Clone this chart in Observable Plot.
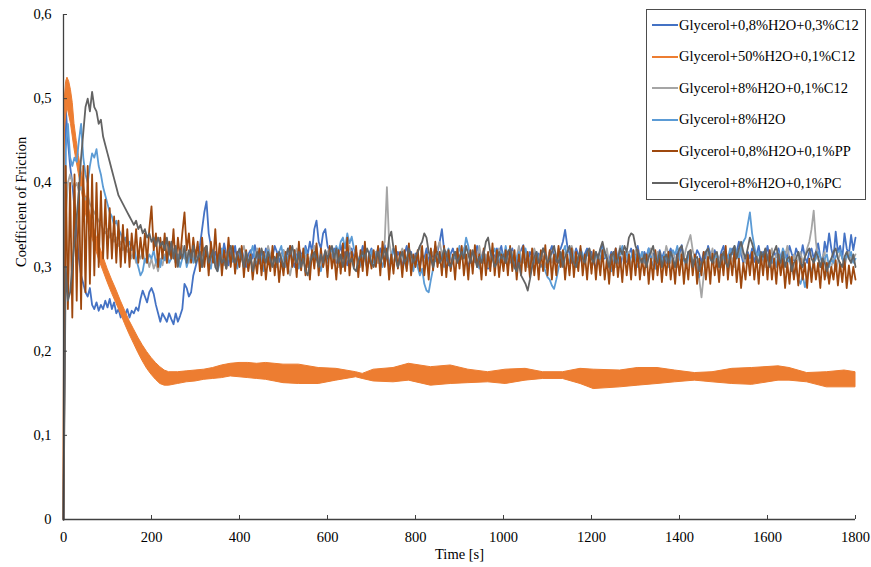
<!DOCTYPE html>
<html>
<head>
<meta charset="utf-8">
<script src="https://cdn.jsdelivr.net/npm/d3@7"></script>
<script src="https://cdn.jsdelivr.net/npm/@observablehq/plot@0.6"></script>
<style>
  body { margin: 0; background: #fff; }
  #chart { position: relative; width: 871px; height: 567px; font-family: "Liberation Serif", "Times New Roman", serif; }
  #chart svg { display: block; }
  .legend { position: absolute; left: 646px; top: 9px; width: 220px; height: 191px; box-sizing: border-box;
            border: 1px solid #4d4d4d; background: #fff; }
  .legend .row { position: absolute; left: 5px; height: 16px; display: flex; align-items: center;
                 font-size: 14.5px; color: #000; white-space: nowrap; }
  .legend .swatch { width: 26px; height: 2px; margin-right: 1px; }
</style>
</head>
<body>
<div id="chart"></div>
<script>
// Series names, in legend order
const seriesNames = [
  "Glycerol+0,8%H2O+0,3%C12",
  "Glycerol+50%H2O+0,1%C12",
  "Glycerol+8%H2O+0,1%C12",
  "Glycerol+8%H2O",
  "Glycerol+0,8%H2O+0,1%PP",
  "Glycerol+8%H2O+0,1%PC"
];
const seriesColors = ["#4472C4", "#ED7D31", "#A5A5A5", "#5B9BD5", "#9E480E", "#636363"];

const xTicks = [0, 200, 400, 600, 800, 1000, 1200, 1400, 1600, 1800];
const yTicks = [0, 0.1, 0.2, 0.3, 0.4, 0.5, 0.6];

// Run-in samples 0..300 s, then steady state 305..1800 s, both every 5 s
const EARLY_STEP = 5;
const LATE_START = 305;
const LATE_STEP = 5;

// Glycerol+0,8%H2O+0,3%C12
const c12HighEarly = [
  0.00, 0.49, 0.45, 0.42, 0.40, 0.37, 0.34, 0.31, 0.29, 0.28,
  0.27, 0.265, 0.275, 0.255, 0.25, 0.258, 0.248, 0.255, 0.25, 0.26,
  0.252, 0.262, 0.25, 0.258, 0.245, 0.25, 0.24, 0.248, 0.243, 0.25,
  0.24, 0.248, 0.245, 0.252, 0.248, 0.262, 0.272, 0.265, 0.258, 0.27,
  0.275, 0.268, 0.255, 0.245, 0.235, 0.245, 0.24, 0.235, 0.245, 0.238,
  0.232, 0.245, 0.235, 0.242, 0.25, 0.28, 0.275, 0.265, 0.27, 0.29,
  0.30
];
const c12HighLate = [
  0.31, 0.325, 0.345, 0.365, 0.378, 0.34, 0.325, 0.312, 0.318, 0.305, 0.322, 0.31, 0.328, 0.315, 0.302, 0.318, 0.31, 0.325, 0.306, 0.316,
  0.322, 0.308, 0.30, 0.315, 0.32, 0.31, 0.326, 0.312, 0.304, 0.318, 0.31, 0.322, 0.314, 0.30, 0.312, 0.325, 0.318, 0.306, 0.315, 0.32,
  0.31, 0.318, 0.325, 0.308, 0.30, 0.314, 0.322, 0.316, 0.31, 0.325, 0.315, 0.33, 0.318, 0.345, 0.355, 0.33, 0.322, 0.34, 0.345, 0.325,
  0.318, 0.31, 0.322, 0.305, 0.315, 0.326, 0.31, 0.318, 0.302, 0.315, 0.322, 0.31, 0.318, 0.305, 0.312, 0.325, 0.31, 0.30, 0.316, 0.322,
  0.31, 0.318, 0.305, 0.322, 0.312, 0.326, 0.31, 0.30, 0.315, 0.322, 0.308, 0.318, 0.312, 0.30, 0.315, 0.325, 0.31, 0.318, 0.304, 0.316,
  0.308, 0.30, 0.315, 0.31, 0.322, 0.305, 0.318, 0.312, 0.325, 0.318, 0.33, 0.345, 0.32, 0.31, 0.302, 0.316, 0.322, 0.31, 0.318, 0.305,
  0.315, 0.322, 0.31, 0.30, 0.312, 0.318, 0.306, 0.325, 0.315, 0.31, 0.32, 0.305, 0.298, 0.312, 0.318, 0.31, 0.322, 0.315, 0.325, 0.31,
  0.305, 0.318, 0.312, 0.322, 0.31, 0.30, 0.315, 0.32, 0.326, 0.31, 0.304, 0.318, 0.312, 0.32, 0.308, 0.316, 0.31, 0.322, 0.315, 0.305,
  0.318, 0.325, 0.312, 0.306, 0.318, 0.322, 0.33, 0.344, 0.325, 0.316, 0.305, 0.312, 0.322, 0.315, 0.31, 0.302, 0.316, 0.322, 0.31, 0.318,
  0.305, 0.298, 0.312, 0.32, 0.326, 0.31, 0.315, 0.308, 0.318, 0.312, 0.322, 0.31, 0.30, 0.312, 0.318, 0.306, 0.315, 0.322, 0.31, 0.316,
  0.325, 0.31, 0.304, 0.318, 0.312, 0.322, 0.308, 0.316, 0.30, 0.312, 0.32, 0.31, 0.318, 0.305, 0.315, 0.322, 0.31, 0.30, 0.318, 0.312,
  0.326, 0.31, 0.305, 0.318, 0.312, 0.30, 0.31, 0.32, 0.315, 0.305, 0.318, 0.31, 0.325, 0.316, 0.308, 0.32, 0.312, 0.305, 0.318, 0.325,
  0.31, 0.305, 0.316, 0.322, 0.31, 0.318, 0.33, 0.315, 0.305, 0.312, 0.318, 0.31, 0.322, 0.306, 0.315, 0.325, 0.31, 0.318, 0.312, 0.325,
  0.31, 0.305, 0.318, 0.312, 0.322, 0.31, 0.305, 0.318, 0.31, 0.325, 0.316, 0.308, 0.322, 0.315, 0.31, 0.326, 0.312, 0.305, 0.318, 0.322,
  0.31, 0.318, 0.328, 0.312, 0.305, 0.33, 0.318, 0.34, 0.322, 0.31, 0.342, 0.318, 0.325, 0.31, 0.34, 0.322, 0.315, 0.338, 0.32, 0.335
];

// Glycerol+50%H2O+0,1%C12: oscillation band, lower and upper envelope
const water50Time = [
  0, 3, 6, 9, 13, 17, 21, 25, 30, 35, 40, 50, 60, 70, 80, 90, 100, 110, 120, 130,
  140, 150, 160, 170, 180, 190, 200, 210, 220, 230, 240, 250, 260, 280, 300, 320, 340, 360, 380, 400,
  420, 440, 460, 480, 500, 535, 580, 620, 665, 680, 705, 750, 785, 835, 880, 920, 965, 1005, 1050, 1090,
  1135, 1175, 1205, 1265, 1305, 1350, 1390, 1435, 1475, 1520, 1565, 1625, 1650, 1690, 1735, 1775, 1800
];
const water50Low = [
  0.000, 0.46, 0.48, 0.49, 0.48, 0.47, 0.455, 0.44, 0.425, 0.41, 0.395, 0.365, 0.345, 0.327, 0.31, 0.296, 0.282, 0.269, 0.257, 0.245,
  0.232, 0.22, 0.209, 0.198, 0.188, 0.179, 0.172, 0.166, 0.161, 0.159, 0.159, 0.16, 0.161, 0.163, 0.164, 0.166, 0.167, 0.168, 0.170, 0.169,
  0.168, 0.167, 0.166, 0.164, 0.162, 0.161, 0.161, 0.165, 0.169, 0.167, 0.164, 0.163, 0.165, 0.159, 0.161, 0.162, 0.163, 0.161, 0.165, 0.167,
  0.167, 0.161, 0.155, 0.157, 0.159, 0.161, 0.163, 0.165, 0.163, 0.161, 0.160, 0.165, 0.165, 0.163, 0.157, 0.157, 0.157
];
const water50High = [
  0.025, 0.50, 0.52, 0.525, 0.52, 0.51, 0.495, 0.47, 0.45, 0.432, 0.417, 0.385, 0.365, 0.345, 0.328, 0.313, 0.298, 0.285, 0.273, 0.26,
  0.248, 0.236, 0.226, 0.216, 0.207, 0.199, 0.192, 0.186, 0.181, 0.177, 0.175, 0.175, 0.175, 0.176, 0.177, 0.178, 0.18, 0.183, 0.185, 0.186,
  0.186, 0.185, 0.186, 0.185, 0.184, 0.184, 0.180, 0.179, 0.175, 0.173, 0.178, 0.180, 0.185, 0.181, 0.183, 0.178, 0.175, 0.178, 0.179, 0.175,
  0.175, 0.179, 0.178, 0.177, 0.180, 0.180, 0.177, 0.174, 0.175, 0.179, 0.180, 0.182, 0.180, 0.174, 0.175, 0.177, 0.175
];

// Glycerol+8%H2O+0,1%C12
const c12LowEarly = [
  0.00, 0.36, 0.40, 0.41, 0.40, 0.395, 0.40, 0.39, 0.395, 0.385,
  0.38, 0.385, 0.375, 0.37, 0.365, 0.36, 0.355, 0.35, 0.345, 0.34,
  0.345, 0.335, 0.34, 0.33, 0.335, 0.325, 0.33, 0.32, 0.325, 0.318,
  0.322, 0.31, 0.318, 0.305, 0.315, 0.31, 0.32, 0.305, 0.312, 0.30,
  0.31, 0.298, 0.305, 0.295, 0.31, 0.302, 0.315, 0.305, 0.318, 0.31,
  0.322, 0.305, 0.315, 0.31, 0.325, 0.31, 0.318, 0.305, 0.315, 0.31,
  0.32
];
const c12LowLate = [
  0.315, 0.305, 0.318, 0.31, 0.322, 0.30, 0.312, 0.318, 0.305, 0.31, 0.325, 0.31, 0.302, 0.315, 0.32, 0.308, 0.318, 0.31, 0.30, 0.312,
  0.318, 0.325, 0.31, 0.305, 0.315, 0.30, 0.31, 0.322, 0.312, 0.305, 0.318, 0.31, 0.325, 0.315, 0.305, 0.31, 0.30, 0.318, 0.312, 0.32,
  0.31, 0.30, 0.29, 0.305, 0.315, 0.322, 0.31, 0.305, 0.318, 0.312, 0.30, 0.31, 0.318, 0.325, 0.31, 0.305, 0.315, 0.30, 0.31, 0.318,
  0.322, 0.31, 0.305, 0.315, 0.30, 0.312, 0.318, 0.305, 0.31, 0.325, 0.315, 0.308, 0.318, 0.31, 0.30, 0.312, 0.322, 0.31, 0.305, 0.315,
  0.31, 0.318, 0.305, 0.312, 0.32, 0.33, 0.395, 0.33, 0.315, 0.305, 0.312, 0.30, 0.315, 0.322, 0.31, 0.305, 0.318, 0.31, 0.30, 0.312,
  0.318, 0.325, 0.31, 0.305, 0.315, 0.30, 0.312, 0.318, 0.31, 0.322, 0.33, 0.315, 0.305, 0.318, 0.31, 0.30, 0.312, 0.318, 0.305, 0.315,
  0.31, 0.322, 0.305, 0.315, 0.31, 0.30, 0.318, 0.312, 0.325, 0.31, 0.305, 0.315, 0.30, 0.31, 0.318, 0.305, 0.312, 0.322, 0.31, 0.305,
  0.315, 0.30, 0.31, 0.318, 0.305, 0.312, 0.325, 0.31, 0.305, 0.318, 0.30, 0.31, 0.315, 0.322, 0.31, 0.305, 0.318, 0.312, 0.30, 0.31,
  0.318, 0.305, 0.315, 0.31, 0.322, 0.30, 0.312, 0.318, 0.31, 0.305, 0.325, 0.315, 0.305, 0.31, 0.318, 0.30, 0.31, 0.315, 0.322, 0.31,
  0.305, 0.315, 0.31, 0.30, 0.318, 0.312, 0.322, 0.305, 0.31, 0.318, 0.30, 0.31, 0.325, 0.315, 0.305, 0.31, 0.318, 0.30, 0.312, 0.32,
  0.31, 0.305, 0.318, 0.31, 0.30, 0.315, 0.322, 0.31, 0.305, 0.318, 0.312, 0.30, 0.31, 0.325, 0.315, 0.305, 0.318, 0.31, 0.30, 0.312,
  0.318, 0.31, 0.322, 0.33, 0.338, 0.32, 0.31, 0.30, 0.285, 0.264, 0.29, 0.305, 0.318, 0.31, 0.322, 0.305, 0.315, 0.31, 0.30, 0.312,
  0.318, 0.305, 0.315, 0.31, 0.30, 0.318, 0.312, 0.325, 0.31, 0.305, 0.315, 0.30, 0.31, 0.322, 0.312, 0.305, 0.318, 0.31, 0.30, 0.315,
  0.31, 0.322, 0.305, 0.315, 0.31, 0.30, 0.318, 0.312, 0.325, 0.31, 0.305, 0.315, 0.30, 0.31, 0.318, 0.305, 0.312, 0.322, 0.33, 0.345,
  0.367, 0.33, 0.31, 0.30, 0.312, 0.318, 0.29, 0.285, 0.30, 0.31, 0.295, 0.305, 0.318, 0.31, 0.30, 0.312, 0.318, 0.305, 0.31, 0.315
];

// Glycerol+8%H2O
const waterEarly = [
  0.00, 0.44, 0.47, 0.43, 0.42, 0.43, 0.425, 0.45, 0.47, 0.43,
  0.41, 0.40, 0.42, 0.435, 0.43, 0.44, 0.42, 0.41, 0.395, 0.385,
  0.375, 0.365, 0.36, 0.35, 0.355, 0.345, 0.34, 0.33, 0.335, 0.325,
  0.33, 0.32, 0.325, 0.31, 0.30, 0.29, 0.295, 0.31, 0.305, 0.315,
  0.31, 0.32, 0.305, 0.312, 0.30, 0.315, 0.308, 0.318, 0.305, 0.31,
  0.32, 0.305, 0.315, 0.30, 0.31, 0.318, 0.30, 0.31, 0.32, 0.305,
  0.315
];
const waterLate = [
  0.31, 0.318, 0.30, 0.312, 0.325, 0.305, 0.298, 0.318, 0.31, 0.295, 0.305, 0.322, 0.31, 0.30, 0.315, 0.325, 0.306, 0.31, 0.298, 0.312,
  0.32, 0.305, 0.31, 0.298, 0.315, 0.325, 0.31, 0.302, 0.318, 0.31, 0.295, 0.312, 0.32, 0.305, 0.315, 0.31, 0.30, 0.318, 0.325, 0.31,
  0.30, 0.312, 0.318, 0.305, 0.32, 0.31, 0.298, 0.315, 0.305, 0.322, 0.31, 0.30, 0.318, 0.31, 0.325, 0.305, 0.295, 0.31, 0.318, 0.305,
  0.315, 0.322, 0.31, 0.325, 0.318, 0.33, 0.335, 0.322, 0.34, 0.328, 0.336, 0.322, 0.315, 0.31, 0.302, 0.318, 0.31, 0.298, 0.31, 0.32,
  0.305, 0.315, 0.322, 0.31, 0.30, 0.312, 0.318, 0.305, 0.31, 0.322, 0.315, 0.30, 0.31, 0.318, 0.305, 0.298, 0.312, 0.305, 0.295, 0.31,
  0.30, 0.29, 0.298, 0.28, 0.272, 0.27, 0.285, 0.298, 0.31, 0.305, 0.318, 0.31, 0.30, 0.315, 0.322, 0.31, 0.305, 0.318, 0.312, 0.325,
  0.31, 0.318, 0.335, 0.325, 0.31, 0.302, 0.315, 0.31, 0.298, 0.312, 0.318, 0.305, 0.31, 0.30, 0.315, 0.322, 0.31, 0.305, 0.318, 0.31,
  0.325, 0.31, 0.305, 0.315, 0.298, 0.31, 0.318, 0.305, 0.312, 0.322, 0.31, 0.30, 0.315, 0.305, 0.318, 0.31, 0.30, 0.305, 0.295, 0.288,
  0.285, 0.278, 0.274, 0.285, 0.298, 0.31, 0.318, 0.325, 0.31, 0.305, 0.318, 0.312, 0.30, 0.31, 0.322, 0.315, 0.305, 0.318, 0.31, 0.30,
  0.312, 0.318, 0.305, 0.31, 0.322, 0.315, 0.31, 0.30, 0.295, 0.31, 0.318, 0.305, 0.315, 0.325, 0.31, 0.318, 0.305, 0.312, 0.32, 0.31,
  0.30, 0.31, 0.318, 0.305, 0.312, 0.322, 0.31, 0.302, 0.298, 0.31, 0.318, 0.305, 0.315, 0.31, 0.30, 0.312, 0.32, 0.315, 0.325, 0.31,
  0.305, 0.31, 0.30, 0.312, 0.318, 0.305, 0.31, 0.295, 0.288, 0.30, 0.31, 0.318, 0.322, 0.31, 0.305, 0.315, 0.31, 0.30, 0.305, 0.312,
  0.318, 0.31, 0.322, 0.315, 0.325, 0.318, 0.31, 0.322, 0.33, 0.335, 0.35, 0.365, 0.34, 0.325, 0.31, 0.318, 0.305, 0.312, 0.32, 0.31,
  0.315, 0.305, 0.31, 0.30, 0.318, 0.31, 0.322, 0.315, 0.305, 0.31, 0.298, 0.29, 0.30, 0.285, 0.28, 0.29, 0.276, 0.288, 0.30, 0.295,
  0.305, 0.31, 0.318, 0.312, 0.305, 0.31, 0.315, 0.30, 0.31, 0.305, 0.312, 0.318, 0.32, 0.31, 0.305, 0.315, 0.31, 0.318, 0.305, 0.31
];

// Glycerol+0,8%H2O+0,1%PP
const ppEarly = [
  0.00, 0.42, 0.25, 0.40, 0.24, 0.41, 0.26, 0.40, 0.25, 0.42,
  0.27, 0.42, 0.28, 0.41, 0.29, 0.40, 0.30, 0.39, 0.31, 0.38,
  0.31, 0.37, 0.31, 0.36, 0.305, 0.355, 0.30, 0.35, 0.305, 0.345,
  0.30, 0.34, 0.31, 0.345, 0.305, 0.335, 0.31, 0.34, 0.305, 0.345,
  0.372, 0.32, 0.34, 0.30, 0.335, 0.31, 0.34, 0.305, 0.33, 0.31,
  0.345, 0.30, 0.335, 0.31, 0.34, 0.365, 0.32, 0.34, 0.305, 0.335,
  0.31
];
const ppLate = [
  0.33, 0.295, 0.335, 0.30, 0.325, 0.29, 0.33, 0.305, 0.345, 0.30, 0.328, 0.29, 0.32, 0.298, 0.335, 0.30, 0.325, 0.292, 0.318, 0.30,
  0.325, 0.288, 0.32, 0.295, 0.315, 0.285, 0.31, 0.292, 0.322, 0.29, 0.318, 0.285, 0.312, 0.295, 0.325, 0.29, 0.316, 0.282, 0.31, 0.29,
  0.318, 0.292, 0.325, 0.30, 0.32, 0.288, 0.33, 0.296, 0.322, 0.29, 0.315, 0.285, 0.32, 0.298, 0.328, 0.29, 0.322, 0.30, 0.318, 0.288,
  0.325, 0.298, 0.315, 0.285, 0.32, 0.292, 0.328, 0.295, 0.335, 0.29, 0.318, 0.30, 0.325, 0.288, 0.32, 0.295, 0.33, 0.29, 0.315, 0.298,
  0.32, 0.30, 0.325, 0.29, 0.33, 0.30, 0.322, 0.285, 0.315, 0.292, 0.325, 0.298, 0.318, 0.288, 0.32, 0.295, 0.328, 0.29, 0.315, 0.30,
  0.32, 0.295, 0.325, 0.29, 0.315, 0.285, 0.322, 0.296, 0.33, 0.30, 0.318, 0.29, 0.325, 0.288, 0.32, 0.295, 0.315, 0.285, 0.322, 0.298,
  0.325, 0.29, 0.315, 0.285, 0.32, 0.292, 0.326, 0.30, 0.315, 0.285, 0.322, 0.29, 0.318, 0.295, 0.328, 0.29, 0.32, 0.288, 0.315, 0.295,
  0.32, 0.29, 0.325, 0.295, 0.32, 0.285, 0.315, 0.29, 0.325, 0.295, 0.318, 0.288, 0.322, 0.29, 0.315, 0.285, 0.32, 0.295, 0.326, 0.29,
  0.32, 0.285, 0.315, 0.29, 0.325, 0.30, 0.32, 0.285, 0.315, 0.29, 0.322, 0.288, 0.318, 0.295, 0.325, 0.29, 0.315, 0.285, 0.32, 0.292,
  0.32, 0.285, 0.315, 0.29, 0.32, 0.285, 0.31, 0.28, 0.315, 0.29, 0.322, 0.288, 0.312, 0.282, 0.318, 0.29, 0.315, 0.285, 0.32, 0.29,
  0.32, 0.285, 0.31, 0.29, 0.315, 0.28, 0.31, 0.285, 0.32, 0.29, 0.315, 0.282, 0.312, 0.29, 0.318, 0.285, 0.31, 0.28, 0.315, 0.29,
  0.315, 0.28, 0.31, 0.285, 0.32, 0.29, 0.315, 0.28, 0.31, 0.29, 0.318, 0.285, 0.312, 0.28, 0.316, 0.29, 0.31, 0.282, 0.315, 0.29,
  0.325, 0.285, 0.315, 0.29, 0.32, 0.282, 0.31, 0.275, 0.305, 0.285, 0.315, 0.29, 0.318, 0.285, 0.312, 0.28, 0.315, 0.29, 0.32, 0.285,
  0.32, 0.285, 0.31, 0.28, 0.315, 0.29, 0.31, 0.275, 0.305, 0.28, 0.312, 0.285, 0.308, 0.278, 0.31, 0.285, 0.305, 0.275, 0.31, 0.282,
  0.31, 0.285, 0.305, 0.275, 0.31, 0.285, 0.305, 0.28, 0.30, 0.285, 0.308, 0.278, 0.305, 0.282, 0.31, 0.275, 0.302, 0.28, 0.30, 0.285
];

// Glycerol+8%H2O+0,1%PC
const pcEarly = [
  0.00, 0.30, 0.26, 0.27, 0.30, 0.33, 0.36, 0.39, 0.43, 0.46,
  0.49, 0.50, 0.485, 0.508, 0.49, 0.485, 0.47, 0.475, 0.455, 0.445,
  0.435, 0.425, 0.415, 0.405, 0.395, 0.385, 0.38, 0.375, 0.37, 0.365,
  0.36, 0.355, 0.35, 0.355, 0.345, 0.35, 0.34, 0.345, 0.335, 0.34,
  0.33, 0.335, 0.325, 0.335, 0.325, 0.33, 0.32, 0.335, 0.315, 0.33,
  0.31, 0.325, 0.30, 0.32, 0.31, 0.325, 0.305, 0.32, 0.31, 0.325,
  0.305
];
const pcLate = [
  0.31, 0.318, 0.30, 0.322, 0.325, 0.305, 0.312, 0.32, 0.30, 0.295, 0.315, 0.305, 0.31, 0.298, 0.318, 0.325, 0.31, 0.305, 0.315, 0.322,
  0.31, 0.30, 0.318, 0.305, 0.312, 0.295, 0.305, 0.318, 0.31, 0.322, 0.312, 0.305, 0.318, 0.31, 0.30, 0.312, 0.305, 0.318, 0.31, 0.30,
  0.312, 0.322, 0.315, 0.325, 0.31, 0.305, 0.318, 0.30, 0.31, 0.295, 0.29, 0.305, 0.312, 0.318, 0.31, 0.30, 0.315, 0.305, 0.32, 0.31,
  0.318, 0.325, 0.31, 0.322, 0.305, 0.315, 0.30, 0.312, 0.318, 0.305, 0.31, 0.298, 0.295, 0.308, 0.312, 0.318, 0.31, 0.322, 0.315, 0.305,
  0.30, 0.31, 0.318, 0.305, 0.312, 0.322, 0.31, 0.335, 0.342, 0.322, 0.31, 0.30, 0.312, 0.318, 0.305, 0.31, 0.322, 0.315, 0.305, 0.312,
  0.318, 0.325, 0.33, 0.34, 0.335, 0.318, 0.31, 0.30, 0.312, 0.318, 0.305, 0.31, 0.322, 0.315, 0.305, 0.30, 0.31, 0.318, 0.305, 0.312,
  0.318, 0.31, 0.325, 0.315, 0.305, 0.32, 0.31, 0.30, 0.312, 0.305, 0.315, 0.33, 0.335, 0.318, 0.31, 0.30, 0.305, 0.318, 0.31, 0.315,
  0.305, 0.318, 0.322, 0.31, 0.30, 0.295, 0.305, 0.29, 0.285, 0.28, 0.272, 0.285, 0.30, 0.312, 0.318, 0.305, 0.31, 0.322, 0.315, 0.305,
  0.31, 0.318, 0.325, 0.31, 0.305, 0.318, 0.30, 0.312, 0.318, 0.325, 0.31, 0.305, 0.30, 0.312, 0.318, 0.31, 0.305, 0.318, 0.322, 0.31,
  0.305, 0.318, 0.31, 0.322, 0.33, 0.318, 0.31, 0.30, 0.312, 0.318, 0.305, 0.31, 0.322, 0.315, 0.325, 0.318, 0.335, 0.34, 0.338, 0.325,
  0.318, 0.31, 0.305, 0.315, 0.30, 0.312, 0.318, 0.325, 0.31, 0.305, 0.318, 0.30, 0.31, 0.315, 0.305, 0.318, 0.31, 0.30, 0.312, 0.322,
  0.325, 0.31, 0.305, 0.318, 0.32, 0.30, 0.31, 0.312, 0.295, 0.305, 0.31, 0.318, 0.322, 0.31, 0.305, 0.315, 0.318, 0.30, 0.31, 0.318,
  0.305, 0.30, 0.312, 0.318, 0.325, 0.31, 0.322, 0.33, 0.318, 0.31, 0.322, 0.335, 0.328, 0.318, 0.31, 0.305, 0.318, 0.312, 0.322, 0.31,
  0.30, 0.312, 0.318, 0.325, 0.31, 0.305, 0.318, 0.30, 0.31, 0.312, 0.295, 0.305, 0.31, 0.318, 0.305, 0.30, 0.312, 0.318, 0.322, 0.31,
  0.305, 0.318, 0.312, 0.30, 0.31, 0.305, 0.295, 0.305, 0.31, 0.318, 0.322, 0.31, 0.305, 0.30, 0.312, 0.318, 0.31, 0.305, 0.315, 0.30
];

// Build long-format rows for one measured series
function seriesRows(name, early, late) {
  const rows = early.map((v, i) => ({series: name, time: i * EARLY_STEP, cof: v}));
  late.forEach((v, i) => rows.push({series: name, time: LATE_START + i * LATE_STEP, cof: v}));
  return rows;
}

const lineData = [
  seriesRows(seriesNames[0], c12HighEarly, c12HighLate),
  null,
  seriesRows(seriesNames[2], c12LowEarly, c12LowLate),
  seriesRows(seriesNames[3], waterEarly, waterLate),
  seriesRows(seriesNames[4], ppEarly, ppLate),
  seriesRows(seriesNames[5], pcEarly, pcLate)
];
const bandData = water50Time.map((t, i) => ({time: t, low: water50Low[i], high: water50High[i]}));

// Draw in legend order so the last series sits on top
const marks = [];
seriesNames.forEach((name, i) => {
  if (i === 1) {
    marks.push(Plot.areaY(bandData, {x: "time", y1: "low", y2: "high", fill: seriesColors[1],
      stroke: seriesColors[1], strokeWidth: 1}));
  } else {
    marks.push(Plot.line(lineData[i], {x: "time", y: "cof", stroke: seriesColors[i], strokeWidth: 1.8,
      strokeLinejoin: "round"}));
  }
});

const fmtY = d => d === 0 ? "0" : d.toFixed(1).replace(".", ",");

const chart = Plot.plot({
  width: 871,
  height: 567,
  marginLeft: 63,
  marginRight: 16,
  marginTop: 14,
  marginBottom: 48,
  style: {fontFamily: "'Liberation Serif', 'Times New Roman', serif", fontSize: "14.5px", color: "#000", background: "#fff"},
  x: {domain: [0, 1800]},
  y: {domain: [0, 0.6]},
  marks: [
    ...marks,
    Plot.ruleX([0], {stroke: "#404040", strokeWidth: 1.3}),
    Plot.ruleY([0], {stroke: "#404040", strokeWidth: 1.3}),
    Plot.axisX({ticks: xTicks, tickSize: -4, tickPadding: 16, tickFormat: d => String(d), label: null, stroke: "#404040"}),
    Plot.axisY({ticks: yTicks, tickSize: -4, tickPadding: 16, tickFormat: fmtY, label: null, stroke: "#404040"}),
    Plot.text(["Time [s]"], {frameAnchor: "bottom", dy: 39, fontSize: 14.5, fill: "#000"}),
    Plot.text(["Coefficient of Friction"], {frameAnchor: "left", dx: -42, rotate: -90, fontSize: 14.5, fill: "#000"})
  ]
});

const root = document.getElementById("chart");
root.appendChild(chart);

// Legend box in the upper-right corner of the plot
const legend = document.createElement("div");
legend.className = "legend";
seriesNames.forEach((name, i) => {
  const row = document.createElement("div");
  row.className = "row";
  row.style.top = (7 + i * 31.6) + "px";
  const sw = document.createElement("span");
  sw.className = "swatch";
  sw.style.background = seriesColors[i];
  const label = document.createElement("span");
  label.textContent = name;
  row.appendChild(sw);
  row.appendChild(label);
  legend.appendChild(row);
});
root.appendChild(legend);
</script>
</body>
</html>
